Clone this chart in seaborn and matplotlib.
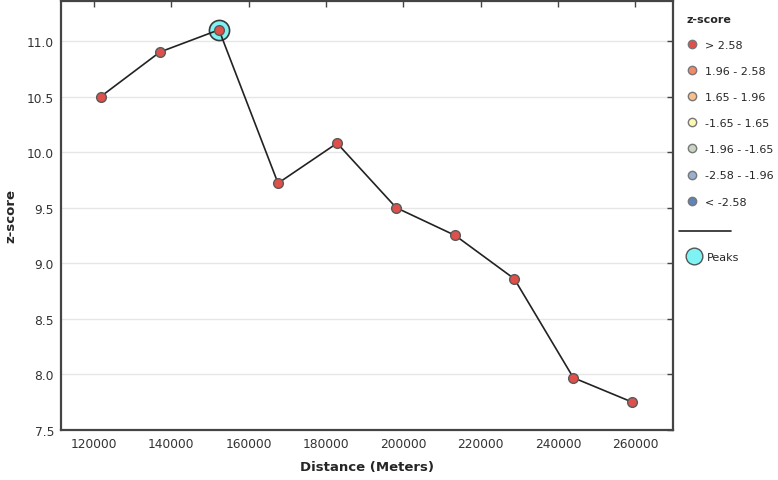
import matplotlib
matplotlib.use("Agg")
import matplotlib.pyplot as plt
from matplotlib.lines import Line2D
import seaborn as sns
import pandas as pd

# values
distances = [121800, 137070, 152340, 167610, 182880, 198150, 213420, 228690, 243960, 259230]
zscores = [10.50, 10.90, 11.10, 9.72, 10.08, 9.50, 9.25, 8.86, 7.97, 7.75]
bin_labels = ["> 2.58", "1.96 - 2.58", "1.65 - 1.96", "-1.65 - 1.65",
              "-1.96 - -1.65", "-2.58 - -1.96", "< -2.58"]
bin_colors = ["#e0504a", "#f08a6c", "#f6bf8c", "#fbf7b4", "#c9d5c2", "#97b0cf", "#5e83bd"]

df = pd.DataFrame({"Distance (Meters)": distances, "z-score": zscores})
peak = df.loc[[df["z-score"].idxmax()]]

sns.set_style("white")
plt.rcParams["font.family"] = ["DejaVu Sans"]

fig = plt.figure(figsize=(7.78, 4.81), dpi=100)
ax = fig.add_axes([0.0784, 0.104, 0.787, 0.892])

# peak ring under the line
sns.scatterplot(data=peak, x="Distance (Meters)", y="z-score", ax=ax, s=210,
                color="#7ff3f3", edgecolor="#3a3a3a", linewidth=1.2, zorder=2, legend=False)
sns.lineplot(data=df, x="Distance (Meters)", y="z-score", ax=ax, color="#222222",
             linewidth=1.2, marker="o", markersize=7, markerfacecolor=bin_colors[0],
             markeredgecolor="#5a5a5a", markeredgewidth=1.0, zorder=3)

ax.set_xlim(111500, 269800)
ax.set_ylim(7.5, 11.36)
ax.set_xticks(range(120000, 260001, 20000))
ax.set_yticks([7.5, 8.0, 8.5, 9.0, 9.5, 10.0, 10.5, 11.0])
ax.yaxis.grid(True, color="#e6e6e6", linewidth=1.0)
ax.xaxis.grid(False)
ax.tick_params(direction="in", length=4, width=1, colors="#444444", labelcolor="#333333",
               labelsize=8.8, top=True, right=True, pad=5)
for s in ax.spines.values():
    s.set_color("#444444")
    s.set_linewidth(1.6)

ax.set_xlabel("Distance (Meters)", fontsize=9.5, fontweight="bold")
ax.set_ylabel("z-score", fontsize=9.5, fontweight="bold")
ax.xaxis.set_label_coords(0.5, -0.07)
ax.yaxis.set_label_coords(-0.072, 0.5)

# z-score bins legend
handles = [Line2D([], [], linestyle="none", marker="o", markersize=6, markerfacecolor=c,
                  markeredgecolor="#777777") for c in bin_colors]
leg = ax.legend(handles, bin_labels, title="z-score", loc="upper left",
                bbox_to_anchor=(0.870, 0.99), bbox_transform=fig.transFigure,
                frameon=False, fontsize=8, labelspacing=1.45, handletextpad=0.6,
                handlelength=1.0, alignment="left",
                title_fontproperties={"weight": "bold", "size": 8})
ax.add_artist(leg)

# separator and peaks entry
fig.add_artist(Line2D([0.873, 0.94], [0.518, 0.518], color="#222222", linewidth=1.2))
peak_h = [Line2D([], [], linestyle="none", marker="o", markersize=12,
                 markerfacecolor="#7ff3f3", markeredgecolor="#555555")]
ax.legend(peak_h, ["Peaks"], loc="center left", bbox_to_anchor=(0.870, 0.464),
          bbox_transform=fig.transFigure, frameon=False, fontsize=8,
          handletextpad=0.6, handlelength=1.2)

fig.savefig("out.png", dpi=100)
